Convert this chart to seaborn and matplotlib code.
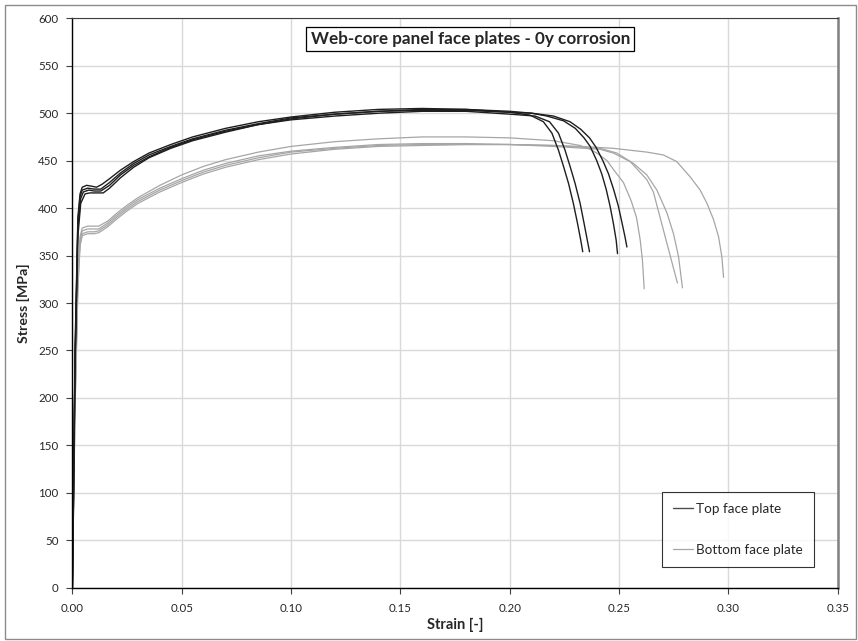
import matplotlib
matplotlib.use("Agg")
import matplotlib.pyplot as plt
from matplotlib.lines import Line2D
from matplotlib.patches import Rectangle
import seaborn as sns
import pandas as pd

# ---------------- data ----------------
title = "Web-core panel face plates - 0y corrosion"
x_label = "Strain [-]"
y_label = "Stress [MPa]"
group_names = ["Top face plate", "Bottom face plate"]
x_ticks = [0.00, 0.05, 0.10, 0.15, 0.20, 0.25, 0.30, 0.35]
y_ticks = [0, 50, 100, 150, 200, 250, 300, 350, 400, 450, 500, 550, 600]

# Top face plate specimens
top1_strain = [0, 0.0012, 0.0025, 0.0035, 0.0045, 0.0065, 0.009, 0.011, 0.0135, 0.017, 0.022, 0.028, 0.035, 0.045,
               0.055, 0.07, 0.085, 0.10, 0.12, 0.14, 0.16, 0.18, 0.20, 0.2093, 0.2154, 0.2193, 0.2223, 0.2246,
               0.2269, 0.2291, 0.231, 0.2325, 0.2334]
top1_stress = [0, 250, 390, 415, 422, 424, 423, 422, 425, 431, 440, 449, 458, 467,
               475, 484, 491, 496, 501, 504, 505, 504, 501, 498, 491, 479, 461, 444,
               426, 405, 384, 366, 354]
top2_strain = [0, 0.0012, 0.0025, 0.0038, 0.0058, 0.008, 0.011, 0.0141, 0.017, 0.022, 0.028, 0.035, 0.045,
               0.055, 0.07, 0.085, 0.10, 0.12, 0.14, 0.16, 0.18, 0.20, 0.2116, 0.2182, 0.2223, 0.2253, 0.2276,
               0.2299, 0.2322, 0.234, 0.2355, 0.2365]
top2_stress = [0, 230, 370, 405, 415, 416, 416, 416, 421, 432, 443, 453, 463,
               471, 480, 488, 493, 497, 500, 502, 502, 499, 497, 491, 479, 461, 444,
               426, 405, 384, 366, 354]
top3_strain = [0, 0.0012, 0.0025, 0.0035, 0.0045, 0.007, 0.010, 0.013, 0.017, 0.022, 0.028, 0.035, 0.045,
               0.055, 0.07, 0.085, 0.10, 0.12, 0.14, 0.16, 0.18, 0.20, 0.21, 0.217, 0.2246, 0.23, 0.234,
               0.2368, 0.2398, 0.2421, 0.2441, 0.2459, 0.2474, 0.2487, 0.2493]
top3_stress = [0, 240, 385, 412, 419, 421, 420, 420, 427, 437, 447, 456, 465,
               473, 482, 489, 495, 499, 502, 504, 504, 502, 500, 497, 492, 484, 474,
               465, 450, 436, 420, 402, 384, 366, 352]
top4_strain = [0, 0.0012, 0.0025, 0.0038, 0.005, 0.0075, 0.010, 0.013, 0.017, 0.022, 0.028, 0.035, 0.045,
               0.055, 0.07, 0.085, 0.10, 0.12, 0.14, 0.16, 0.18, 0.20, 0.21, 0.22, 0.2276, 0.2325, 0.2365,
               0.2395, 0.2426, 0.2452, 0.2476, 0.2497, 0.2514, 0.2527, 0.2536]
top4_stress = [0, 235, 378, 410, 417, 419, 418, 418, 424, 435, 445, 454, 464,
               472, 481, 488, 494, 499, 502, 503, 503, 501, 500, 497, 491, 483, 474,
               464, 450, 436, 419, 402, 384, 370, 359]

# Bottom face plate specimens
bot1_strain = [0, 0.0012, 0.0025, 0.0035, 0.0045, 0.007, 0.010, 0.012, 0.016, 0.02, 0.025, 0.03, 0.04, 0.05,
               0.06, 0.07, 0.085, 0.10, 0.12, 0.14, 0.16, 0.18, 0.20, 0.22, 0.2322, 0.2368, 0.2405, 0.2445,
               0.248, 0.252, 0.2555, 0.258, 0.2597, 0.2607, 0.2615]
bot1_stress = [0, 200, 330, 370, 379, 381, 381, 381, 386, 394, 403, 411, 424, 435,
               444, 451, 459, 465, 470, 473, 475, 475, 474, 471, 466, 462, 457, 450,
               439, 427, 408, 390, 366, 345, 315]
bot2_strain = [0, 0.0012, 0.0025, 0.0035, 0.0045, 0.007, 0.010, 0.012, 0.016, 0.02, 0.025, 0.03, 0.04, 0.05,
               0.06, 0.07, 0.085, 0.10, 0.12, 0.14, 0.16, 0.18, 0.20, 0.22, 0.2413, 0.2474, 0.2551, 0.2627,
               0.2657, 0.2767]
bot2_stress = [0, 190, 320, 362, 373, 375, 375, 376, 382, 390, 399, 407, 419, 429,
               438, 445, 453, 459, 463, 466, 467, 467, 467, 465, 462, 458, 449, 430,
               417, 321]
bot3_strain = [0, 0.0012, 0.0025, 0.0035, 0.0045, 0.007, 0.010, 0.012, 0.016, 0.02, 0.025, 0.03, 0.04, 0.05,
               0.06, 0.07, 0.085, 0.10, 0.12, 0.14, 0.16, 0.18, 0.20, 0.22, 0.2413, 0.249, 0.2566, 0.2627,
               0.2673, 0.2719, 0.2749, 0.2772, 0.279]
bot3_stress = [0, 195, 325, 366, 376, 378, 378, 378, 384, 392, 401, 409, 421, 431,
               440, 447, 455, 460, 464, 467, 468, 468, 467, 466, 463, 458, 447, 435,
               419, 395, 373, 349, 316]
bot4_strain = [0, 0.0012, 0.0025, 0.0035, 0.0045, 0.007, 0.010, 0.012, 0.016, 0.02, 0.025, 0.03, 0.04, 0.05,
               0.06, 0.07, 0.085, 0.10, 0.12, 0.14, 0.16, 0.18, 0.20, 0.22, 0.2322, 0.2474, 0.2627, 0.2703,
               0.2764, 0.2825, 0.2871, 0.2902, 0.2932, 0.2955, 0.297, 0.2978]
bot4_stress = [0, 185, 315, 360, 371, 373, 373, 374, 380, 388, 397, 405, 417, 427,
               436, 443, 451, 457, 462, 465, 466, 467, 467, 466, 465, 463, 459, 456,
               449, 433, 419, 405, 388, 370, 349, 327]

# ---------------- build long table ----------------
curves = [
    ("Top face plate", "T1", top1_strain, top1_stress),
    ("Top face plate", "T2", top2_strain, top2_stress),
    ("Top face plate", "T3", top3_strain, top3_stress),
    ("Top face plate", "T4", top4_strain, top4_stress),
    ("Bottom face plate", "B1", bot1_strain, bot1_stress),
    ("Bottom face plate", "B2", bot2_strain, bot2_stress),
    ("Bottom face plate", "B3", bot3_strain, bot3_stress),
    ("Bottom face plate", "B4", bot4_strain, bot4_stress),
]
rows = []
for grp, spec, xs, ys in curves:
    for xv, yv in zip(xs, ys):
        rows.append({"group": grp, "specimen": spec, "strain": xv, "stress": yv})
df = pd.DataFrame(rows)

# ---------------- style ----------------
sns.set_style("white")
plt.rcParams["font.family"] = ["Lato", "DejaVu Sans"]

top_color = "#1e1e1e"
bot_color = "#a6a6a6"
text_color = "#262626"

fig = plt.figure(figsize=(8.58, 6.41), dpi=100)
ax = fig.add_axes([72.4 / 858, 1 - 587.7 / 641, (837.7 - 72.4) / 858, (587.7 - 18.3) / 641])

# outer chart-area frame
fig.patches.append(Rectangle((5 / 858, 2 / 641), 851 / 858, 634 / 641, transform=fig.transFigure,
                             fill=False, edgecolor="#8c8c8c", linewidth=1.0, zorder=0))

sns.lineplot(data=df[df.group == "Bottom face plate"], x="strain", y="stress", units="specimen",
             estimator=None, color=bot_color, linewidth=0.9, ax=ax, sort=False, legend=False)
sns.lineplot(data=df[df.group == "Top face plate"], x="strain", y="stress", units="specimen",
             estimator=None, color=top_color, linewidth=1.0, ax=ax, sort=False, legend=False)

ax.set_xlim(0, 0.35)
ax.set_ylim(0, 600)
ax.set_xticks(x_ticks)
ax.set_yticks(y_ticks)
ax.set_xticklabels([f"{v:.2f}" for v in x_ticks])
ax.set_yticklabels([str(v) for v in y_ticks])
ax.grid(True, color="#d9d9d9", linewidth=1.0)
ax.set_axisbelow(True)

for side in ["left", "bottom"]:
    ax.spines[side].set_color("#000000")
    ax.spines[side].set_linewidth(1.0)
ax.spines["top"].set_color("#404040")
ax.spines["top"].set_linewidth(0.8)
ax.spines["right"].set_color("#808080")
ax.spines["right"].set_linewidth(1.8)

ax.tick_params(axis="both", which="major", direction="out", length=4, width=0.8, color="#404040",
               labelsize=8.3, labelcolor=text_color, left=True, bottom=True)
ax.tick_params(axis="x", pad=7)
ax.tick_params(axis="y", pad=6)

ax.set_xlabel(x_label, fontsize=10.5, fontweight="bold", color=text_color, labelpad=3)
ax.set_ylabel(y_label, fontsize=10.2, fontweight="bold", color=text_color, labelpad=6)

ax.text(0.520, 0.9636, title, transform=ax.transAxes, ha="center", va="center",
        fontsize=12.3, fontweight="bold", color=text_color,
        bbox=dict(boxstyle="square,pad=0.25", facecolor="white", edgecolor="#000000", linewidth=0.9))

handles = [Line2D([], [], color="#4d4d4d", linewidth=1.0),
           Line2D([], [], color=bot_color, linewidth=0.9)]
leg = ax.legend(handles, group_names, loc="upper left", bbox_to_anchor=(0.7704, 0.1681),
                frameon=True, fancybox=False, fontsize=9.7, labelspacing=2.15, borderpad=0.8,
                handlelength=1.5, handletextpad=0.25, borderaxespad=0.0, labelcolor=text_color)
leg.get_frame().set_edgecolor("#000000")
leg.get_frame().set_linewidth(0.8)

fig.savefig("out.png", dpi=100)
